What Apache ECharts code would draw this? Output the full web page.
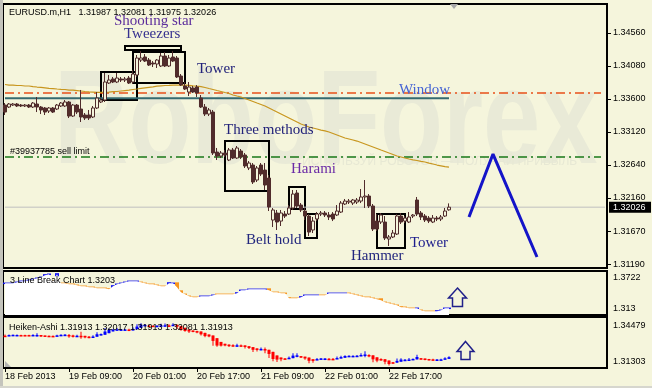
<!DOCTYPE html>
<html>
<head>
<meta charset="utf-8">
<script src="https://cdn.jsdelivr.net/npm/echarts@6.0.0/dist/echarts.min.js"></script>
<style>
html,body{margin:0;padding:0;background:#f5f5dc;}
#chart{width:652px;height:388px;}
</style>
</head>
<body>
<div id="chart"></div>
<script>
// ---------------- data ----------------
const slotCount = 151;                 // hourly slots incl. right-side shift area
const xTickLabels = ['18 Feb 2013','19 Feb 09:00','20 Feb 01:00','20 Feb 17:00','21 Feb 09:00','22 Feb 01:00','22 Feb 17:00'];
const xTickEvery = 16;
const priceTicks = [1.3119,1.3167,1.3216,1.3264,1.3312,1.3360,1.3408,1.3456];
const lbTicks = [1.313, 1.3722];
const haTicks = [1.31303, 1.34479];

// EURUSD H1 candles: [open, close, low, high]
const candles = [
[1.33512,1.33410,1.33367,1.33541],[1.33483,1.33527,1.33469,1.33541],[1.33512,1.33527,1.33498,1.33541],[1.33527,1.33498,1.33483,1.33541],
[1.33512,1.33498,1.33483,1.33527],[1.33498,1.33512,1.33483,1.33527],[1.33512,1.33483,1.33469,1.33527],[1.33483,1.33541,1.33469,1.33556],
[1.33527,1.33483,1.33410,1.33629],[1.33483,1.33440,1.33381,1.33498],[1.33469,1.33410,1.33367,1.33483],[1.33425,1.33469,1.33396,1.33483],
[1.33469,1.33410,1.33396,1.33483],[1.33454,1.33512,1.33440,1.33527],[1.33498,1.33541,1.33483,1.33556],[1.33498,1.33556,1.33483,1.33585],
[1.33556,1.33352,1.33323,1.33570],[1.33352,1.33512,1.33338,1.33527],[1.33512,1.33410,1.33381,1.33527],[1.33454,1.33338,1.33265,1.33731],
[1.33367,1.33323,1.33294,1.33396],[1.33367,1.33323,1.33294,1.33440],[1.33338,1.33469,1.33323,1.33498],[1.33469,1.33614,1.33454,1.33701],
[1.33556,1.33585,1.33541,1.33614],[1.33585,1.33847,1.33556,1.33978],[1.33832,1.33876,1.33818,1.33949],[1.33891,1.33847,1.33832,1.33920],
[1.33847,1.33905,1.33832,1.33978],[1.33891,1.33876,1.33847,1.33920],[1.33876,1.33891,1.33847,1.33920],[1.33905,1.33832,1.33818,1.33934],
[1.33847,1.33963,1.33818,1.34022],[1.33949,1.34196,1.33920,1.34240],[1.34167,1.34196,1.34138,1.34298],[1.34211,1.34152,1.34138,1.34254],
[1.34167,1.34094,1.34080,1.34196],[1.34123,1.34109,1.34065,1.34152],[1.34109,1.34167,1.34051,1.34182],[1.34080,1.34225,1.34065,1.34269],
[1.34225,1.34080,1.34065,1.34283],[1.34080,1.34196,1.34065,1.34240],[1.34211,1.34152,1.34138,1.34298],[1.34196,1.33920,1.33905,1.34225],
[1.33934,1.33803,1.33789,1.33963],[1.33789,1.33745,1.33731,1.33847],[1.33701,1.33774,1.33643,1.33847],[1.33760,1.33701,1.33687,1.33789],
[1.33774,1.33687,1.33629,1.33803],[1.33614,1.33483,1.33469,1.33658],[1.33483,1.33381,1.33352,1.33527],[1.33381,1.33440,1.33352,1.33469],
[1.33410,1.32814,1.32785,1.33440],[1.32828,1.32770,1.32712,1.32887],[1.32770,1.32814,1.32741,1.32843],[1.32814,1.32785,1.32756,1.32858],
[1.32712,1.32858,1.32697,1.32887],[1.32858,1.32741,1.32727,1.32887],[1.32741,1.32887,1.32727,1.32916],[1.32843,1.32756,1.32727,1.32872],
[1.32785,1.32625,1.32596,1.32814],[1.32596,1.32668,1.32566,1.32697],[1.32639,1.32392,1.32363,1.32668],[1.32421,1.32596,1.32392,1.32625],
[1.32639,1.32508,1.32479,1.32668],[1.32566,1.32348,1.32276,1.32668],[1.32450,1.32028,1.31970,1.32494],[1.31839,1.31985,1.31737,1.32014],
[1.31941,1.31810,1.31694,1.31985],[1.31824,1.31941,1.31752,1.31985],[1.31926,1.31897,1.31868,1.31970],[1.31926,1.32014,1.31912,1.32057],
[1.32014,1.32217,1.31985,1.32276],[1.32232,1.32043,1.32014,1.32276],[1.32057,1.31985,1.31955,1.32086],[1.31970,1.31897,1.31839,1.32014],
[1.31897,1.31664,1.31606,1.31926],[1.31694,1.31824,1.31650,1.31883],[1.31854,1.31926,1.31824,1.31955],[1.31926,1.31941,1.31897,1.31970],
[1.31941,1.31912,1.31883,1.31970],[1.31912,1.31883,1.31839,1.31955],[1.31926,1.31854,1.31824,1.31955],[1.31912,1.31970,1.31897,1.32057],
[1.31955,1.32086,1.31941,1.32115],[1.32072,1.32115,1.32057,1.32145],[1.32101,1.32115,1.32072,1.32145],[1.32086,1.32130,1.32057,1.32145],
[1.32101,1.32130,1.32072,1.32159],[1.32115,1.32174,1.32086,1.32290],[1.32174,1.32188,1.32014,1.32421],[1.32188,1.32043,1.32014,1.32217],
[1.32043,1.31708,1.31679,1.32072],[1.31824,1.31708,1.31679,1.31926],[1.31810,1.31912,1.31781,1.31941],[1.31810,1.31577,1.31548,1.31897],
[1.31563,1.31592,1.31461,1.31621],[1.31592,1.31650,1.31577,1.31694],[1.31635,1.31897,1.31621,1.31926],[1.31897,1.31810,1.31781,1.31941],
[1.31824,1.31868,1.31795,1.31897],[1.31810,1.31883,1.31795,1.31955],[1.31897,1.31912,1.31868,1.31926],[1.32130,1.31926,1.31897,1.32174],
[1.31941,1.31883,1.31839,1.31970],[1.31897,1.31839,1.31810,1.31926],[1.31868,1.31824,1.31795,1.31897],[1.31810,1.31868,1.31795,1.31912],
[1.31868,1.31854,1.31824,1.31897],[1.31854,1.31883,1.31824,1.31912],[1.31897,1.31970,1.31883,1.32014],[1.31987,1.32026,1.31975,1.32081]
];

// moving average (goldenrod line)
const ma = [
1.33811,1.33803,1.33803,1.33796,1.33796,1.33789,1.33789,1.33781,1.33774,1.33770,
1.33763,1.33755,1.33752,1.33745,1.33741,1.33738,1.33730,1.33730,1.33723,1.33716,
1.33709,1.33704,1.33701,1.33697,1.33697,1.33697,1.33701,1.33706,1.33709,1.33716,
1.33723,1.33730,1.33738,1.33745,1.33755,1.33763,1.33770,1.33777,1.33786,1.33792,
1.33796,1.33799,1.33803,1.33803,1.33803,1.33803,1.33799,1.33792,1.33786,1.33781,
1.33767,1.33752,1.33738,1.33723,1.33709,1.33694,1.33680,1.33658,1.33643,1.33629,
1.33607,1.33585,1.33563,1.33541,1.33520,1.33498,1.33469,1.33439,1.33410,1.33381,
1.33352,1.33323,1.33294,1.33265,1.33236,1.33214,1.33192,1.33178,1.33163,1.33148,
1.33137,1.33119,1.33098,1.33076,1.33054,1.33032,1.33018,1.33003,1.32988,1.32967,
1.32945,1.32923,1.32901,1.32879,1.32857,1.32836,1.32814,1.32792,1.32770,1.32756,
1.32741,1.32727,1.32715,1.32705,1.32693,1.32683,1.32668,1.32654,1.32639,1.32628,
1.32617,1.32610
];

const windowLevel = 1.33687;   // red dash-dot
const windowLine = 1.33610;    // teal line
const sellLimit = 1.32756;     // green dash-dot
const bidPrice = 1.32026;

// pattern boxes: [fromBar, topPrice, toBar, bottomPrice]
const boxes = [
[24,1.33992,33,1.33585],
[32,1.34283,45,1.33832],
[30,1.34371,44,1.34313],
[55,1.32988,66,1.32261],
[71,1.32319,75,1.31999],
[75,1.31926,78,1.31577],
[93,1.31926,100,1.31432]
];

// forecast zig-zag: [bar, price]
const forecast = [[116,1.31883],[122,1.32799],[133,1.31301]];

// 3 Line Break indicator
const lbLine = [
1.3608,1.3608,1.3608,1.3627,1.3646,1.3646,1.3665,1.3684,1.3703,1.3722,
1.3760,1.3779,1.3646,1.3779,1.3608,1.3608,1.3590,1.3590,1.3571,1.3552,
1.3552,1.3533,1.3533,1.3514,1.3514,1.3514,1.3495,1.3552,1.3590,1.3608,
1.3627,1.3646,1.3646,1.3646,1.3627,1.3608,1.3590,1.3590,1.3571,1.3552,
1.3552,1.3608,1.3608,1.3533,1.3438,1.3400,1.3363,1.3344,1.3344,1.3363,
1.3363,1.3363,1.3382,1.3400,1.3400,1.3400,1.3400,1.3400,1.3419,1.3476,
1.3476,1.3495,1.3495,1.3495,1.3495,1.3495,1.3476,1.3438,1.3438,1.3419,
1.3419,1.3325,1.3325,1.3325,1.3344,1.3382,1.3382,1.3382,1.3382,1.3382,
1.3382,1.3419,1.3419,1.3419,1.3419,1.3419,1.3419,1.3400,1.3382,1.3363,
1.3344,1.3344,1.3325,1.3306,1.3287,1.3249,1.3230,1.3211,1.3193,1.3155,
1.3155,1.3136,1.3136,1.3136,1.3098,1.3079,1.3079,1.3079,1.3079,1.3098,
1.3136,1.3136
];
// 1 = up (blue), 0 = down (orange)
const lbDir = [
1,1,1,1,1,1,1,1,1,1, 1,1,0,1,0,0,0,0,0,0, 0,0,0,0,0,0,0,1,1,1, 1,1,1,1,0,0,0,0,0,0,
0,1,1,0,0,0,0,0,0,1, 1,1,1,0,0,0,0,0,1,1, 1,1,1,1,1,1,0,0,0,0, 0,0,0,0,1,1,1,1,1,0,
0,1,1,1,1,1,0,0,0,0, 0,0,0,0,0,0,0,0,0,0, 0,0,0,1,0,0,0,0,1,1,1,1
];
// larger bricks: [bar, top, bottom, dir]
const lbBricks = [
[10,1.3779,1.3722,1],[12,1.3665,1.3590,0],[13,1.3798,1.3741,1],[26,1.3514,1.3457,0],[27,1.3571,1.3514,1],
[41,1.3627,1.3571,1],[43,1.3627,1.3438,0],[44,1.3476,1.3382,0],[58,1.3438,1.3363,1],[66,1.3514,1.3457,0],
[71,1.3344,1.3306,0],[74,1.3363,1.3306,1],[94,1.3325,1.3249,0],[99,1.3174,1.3117,0],[108,1.3098,1.3060,1]
];

// ---------------- build ----------------
const categories = [];
const t0 = Date.UTC(2013, 1, 18, 17);
for (let i = 0; i < slotCount; i++) {
  categories.push(new Date(t0 + i * 3600e3).toISOString().slice(0, 16).replace('T', ' '));
}

// Heiken-Ashi derived from the candles
const haData = [];
(function () {
  let pO, pC;
  candles.forEach((k, i) => {
    const [o, c, l, h] = k;
    const hc = (o + c + l + h) / 4;
    const ho = i === 0 ? (o + c) / 2 : (pO + pC) / 2;
    haData.push([i, ho, hc, Math.min(l, ho, hc), Math.max(h, ho, hc)]);
    pO = ho; pC = hc;
  });
})();

const FONT = '"Liberation Sans", Arial, sans-serif';
const SERIF = '"Liberation Serif", "Times New Roman", serif';
const BG = '#f5f5dc';
const CANDLE = '#512c2c';
const ORANGE = '#f7941d';
const BLUE = '#1414f0';
const LAST_SLOT = slotCount - 1;

const tickInt = (idx) => idx % xTickEvery === 0 && idx / xTickEvery < xTickLabels.length;

const grids = [
  {left: 3, width: 604, top: 4, height: 264},
  {left: 3, width: 604, top: 271, height: 44},
  {left: 3, width: 604, top: 317, height: 51}
].map(g => Object.assign({show: true, borderColor: '#000', borderWidth: 2, backgroundColor: 'transparent'}, g));

const xAxes = [0, 1, 2].map(gi => ({
  type: 'category', gridIndex: gi, data: categories, boundaryGap: true,
  axisLine: {show: false}, splitLine: {show: false},
  axisTick: gi === 2 ? {show: true, interval: tickInt, alignWithLabel: true, length: 4, lineStyle: {color: '#000'}} : {show: false},
  axisLabel: gi === 2 ? {show: true, interval: tickInt, formatter: (v, idx) => xTickLabels[Math.round(idx / xTickEvery)],
    align: 'left', margin: 4, color: '#000', fontSize: 9, fontFamily: FONT} : {show: false}
}));

const labelStyle = {color: '#000', fontSize: 9, fontFamily: FONT};
const yAxes = [
  {type: 'value', gridIndex: 0, position: 'right', min: 1.31141, max: 1.34982,
   splitLine: {show: false}, axisLine: {show: false},
   axisTick: {show: true, customValues: priceTicks, length: 4, lineStyle: {color: '#000'}},
   axisLabel: Object.assign({customValues: priceTicks, formatter: v => v.toFixed(5), margin: 6}, labelStyle)},
  {type: 'value', gridIndex: 1, position: 'right', min: 1.30091, max: 1.38411,
   splitLine: {show: false}, axisLine: {show: false},
   axisTick: {show: false, customValues: lbTicks},
   axisLabel: Object.assign({customValues: lbTicks, formatter: v => String(v), margin: 6}, labelStyle)},
  {type: 'value', gridIndex: 2, position: 'right', min: 1.3129, max: 1.3472, show: false},
  {type: 'value', gridIndex: 2, position: 'right', min: 1.30769, max: 1.35253,
   splitLine: {show: false}, axisLine: {show: false},
   axisTick: {show: false, customValues: haTicks},
   axisLabel: Object.assign({customValues: haTicks, formatter: v => v.toFixed(5), margin: 6}, labelStyle)}
];

function renderDash(params, api) {
  const p = api.coord([api.value(0), api.value(1)]);
  return {type: 'rect', shape: {x: p[0] - 2, y: p[1] - 0.75, width: 4, height: 1.5},
    style: {fill: api.value(2) ? BLUE : ORANGE}};
}
function renderBrick(params, api) {
  const a = api.coord([api.value(0), api.value(1)]);
  const b = api.coord([api.value(0), api.value(2)]);
  return {type: 'rect', shape: {x: a[0] - 2, y: a[1], width: 4, height: Math.max(b[1] - a[1], 2)},
    style: {fill: api.value(3) ? BLUE : ORANGE}};
}
function renderHA(params, api) {
  const i = api.value(0);
  const yo = api.coord([i, api.value(1)])[1];
  const yc = api.coord([i, api.value(2)])[1];
  const yl = api.coord([i, api.value(3)])[1];
  const yh = api.coord([i, api.value(4)])[1];
  const x = api.coord([i, api.value(1)])[0];
  const col = api.value(2) >= api.value(1) ? '#0000ff' : '#ff0000';
  const top = Math.min(yo, yc), h = Math.max(Math.abs(yo - yc), 1.5);
  return {type: 'group', children: [
    {type: 'rect', shape: {x: x - 0.5, y: yh, width: 1, height: Math.max(yl - yh, 1)}, style: {fill: col}},
    {type: 'rect', shape: {x: x - 1.5, y: top, width: 3, height: h}, style: {fill: col}}
  ]};
}

function txt(text, x, y, font, fill, extra) {
  return Object.assign({type: 'text', x: x, y: y, silent: true, z: 50,
    style: {text: text, font: font, fill: fill, align: 'left', verticalAlign: 'middle'}}, extra || {});
}
const S9 = '9px ' + FONT;
const SER = '15px ' + SERIF;

function arrow(cx, top, w, headH, shaftW, bottom) {
  return [[cx, top], [cx + w / 2, top + headH], [cx + shaftW / 2, top + headH], [cx + shaftW / 2, bottom],
          [cx - shaftW / 2, bottom], [cx - shaftW / 2, top + headH], [cx - w / 2, top + headH]];
}
// horizontal level drawn as a 2-point line series across the bars
function level(name, v, fromBar, toBar, style, z) {
  return {type: 'line', name: name, xAxisIndex: 0, yAxisIndex: 0, data: [[fromBar, v], [toBar, v]],
    symbol: 'none', silent: true, z: z, lineStyle: style};
}

const option = {
  animation: false,
  backgroundColor: BG,
  grid: grids,
  xAxis: xAxes,
  yAxis: yAxes,
  graphic: [
    {type: 'text', x: 54, y: 126, scaleY: 1.3, silent: true, z: -5,
     style: {text: 'RoboForex', font: 'bold 103px ' + FONT, fill: '#e9ead7', align: 'left', verticalAlign: 'middle'}},
    {type: 'text', x: 302, y: 162, silent: true, z: -5,
     style: {text: 'ИСПОЛЬЗУЙ РОБОТОВ — ПОЛУЧАЙ ПРИБЫЛЬ', font: '12px ' + FONT, fill: '#e7e8d4', align: 'left', verticalAlign: 'middle'}},
    {type: 'rect', shape: {x: 0, y: 0, width: 3, height: 388}, style: {fill: '#c4c4bc'}, silent: true},
    {type: 'rect', shape: {x: 0, y: 386, width: 652, height: 2}, style: {fill: '#d6d6ce'}, silent: true},
    {type: 'polygon', shape: {points: [[450, 4], [458, 4], [454, 9]]}, style: {fill: '#a8a8a8'}, silent: true, z: 50},
    {type: 'polygon', shape: {points: [[5, 361], [5, 367], [11, 367]]}, style: {fill: '#b4b4b4'}, silent: true, z: 50},
    txt('EURUSD.m,H1   1.31987 1.32081 1.31975 1.32026', 9, 13, S9, '#000'),
    txt('Shooting star', 114, 21, SER, '#5c2d9c'),
    txt('Tweezers', 124, 34.5, SER, '#35308f'),
    txt('Tower', 197, 69, SER, '#22227a'),
    txt('Window', 399, 90, SER, '#4563d4'),
    txt('Three methods', 224, 130, SER, '#22227a'),
    txt('Harami', 291, 169.5, SER, '#6a2aa6'),
    txt('Belt hold', 246, 240, SER, '#22267e'),
    txt('Hammer', 351, 256.5, SER, '#22267e'),
    txt('Tower', 410, 243.5, SER, '#1c1c8c'),
    txt('#39937785 sell limit', 10, 152, S9, '#000'),
    txt('3 Line Break Chart 1.3203', 10, 281, S9, '#000'),
    txt('Heiken-Ashi 1.31913 1.32017 1.31913 1.32081 1.31913', 9, 328, S9, '#000'),
    {type: 'polygon', z: 50, silent: true, shape: {points: arrow(457.5, 288, 18, 10, 10, 306.5)},
     style: {fill: 'none', stroke: '#20208a', lineWidth: 1.5}},
    {type: 'polygon', z: 50, silent: true, shape: {points: arrow(465.5, 341.5, 17, 10, 9, 359.5)},
     style: {fill: 'none', stroke: '#20208a', lineWidth: 1.5}}
  ],
  series: [
    level('Bid', bidPrice, 0, LAST_SLOT, {color: '#c0c0c0', width: 1}, 1),
    level('Window level', windowLevel, 0, 149, {color: '#e8501a', width: 1.6, type: [9, 4, 2, 4]}, 1),
    level('Sell limit', sellLimit, 0, 149, {color: '#187818', width: 1.6, type: [9, 4, 2, 4]}, 1),
    level('Window', windowLine, 0, 111, {color: '#356a70', width: 2}, 1),
    {type: 'line', name: 'MA', xAxisIndex: 0, yAxisIndex: 0, data: ma, symbol: 'none', silent: true, z: 2,
     lineStyle: {color: '#c8961e', width: 1.2}},
    {type: 'candlestick', name: 'EURUSD', xAxisIndex: 0, yAxisIndex: 0, data: candles, barWidth: 3, z: 3,
     itemStyle: {color: BG, color0: CANDLE, borderColor: CANDLE, borderColor0: CANDLE, borderWidth: 1},
     markArea: {silent: true, label: {show: false},
       itemStyle: {color: 'rgba(0,0,0,0)', borderColor: '#000', borderWidth: 2},
       data: boxes.map(b => [{coord: [b[0], b[1]]}, {coord: [b[2], b[3]]}])}
    },
    {type: 'line', name: 'Forecast', xAxisIndex: 0, yAxisIndex: 0, data: forecast, symbol: 'none', silent: true, z: 4,
     lineStyle: {color: '#1414c8', width: 3}},
    {type: 'line', name: '3LB area', xAxisIndex: 1, yAxisIndex: 1, data: lbLine, symbol: 'none', silent: true,
     lineStyle: {width: 0, opacity: 0}, areaStyle: {color: '#ffffff', opacity: 1, origin: 'start'}},
    {type: 'custom', name: '3LB', xAxisIndex: 1, yAxisIndex: 1, silent: true,
     data: lbLine.map((v, i) => [i, v, lbDir[i]]), renderItem: renderDash, encode: {x: 0, y: 1}},
    {type: 'custom', name: '3LB bricks', xAxisIndex: 1, yAxisIndex: 1, silent: true,
     data: lbBricks, renderItem: renderBrick, encode: {x: 0, y: [1, 2]}},
    {type: 'custom', name: 'Heiken-Ashi', xAxisIndex: 2, yAxisIndex: 2, silent: true,
     data: haData, renderItem: renderHA, encode: {x: 0, y: [1, 2, 3, 4]}}
  ]
};

const chart = echarts.init(document.getElementById('chart'), null, {renderer: 'canvas'});
chart.setOption(option);

// current-price tag on the right scale, anchored to the bid value through the axis
const bidY = chart.convertToPixel({yAxisIndex: 0}, bidPrice);
chart.setOption({graphic: option.graphic.concat([
  {type: 'rect', z: 60, silent: true, shape: {x: 609, y: bidY - 5.5, width: 42, height: 11}, style: {fill: '#000'}},
  {type: 'text', z: 61, silent: true, x: 613, y: bidY,
   style: {text: bidPrice.toFixed(5), font: S9, fill: '#fff', align: 'left', verticalAlign: 'middle'}}
])});
</script>
